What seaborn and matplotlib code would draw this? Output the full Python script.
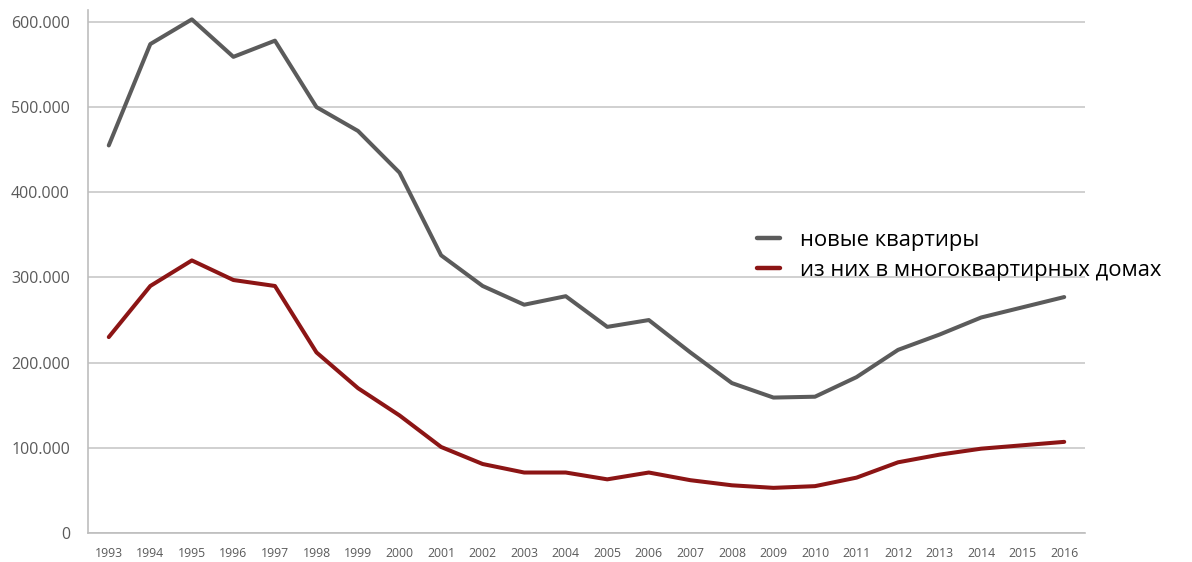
import matplotlib
matplotlib.use("Agg")
import matplotlib.pyplot as plt
from matplotlib.ticker import FuncFormatter, MultipleLocator, FixedLocator
import seaborn as sns
import pandas as pd

years = list(range(1993, 2017))
new_flats = [455000, 574000, 603000, 559000, 578000, 500000, 472000, 423000,
             326000, 290000, 268000, 278000, 242000, 250000, 212000, 176000,
             159000, 160000, 183000, 215000, 233000, 253000, 265000, 277000]
multi_family = [230000, 290000, 320000, 297000, 290000, 212000, 170000, 138000,
                101000, 81000, 71000, 71000, 63000, 71000, 62000, 56000,
                53000, 55000, 65000, 83000, 92000, 99000, 103000, 107000]
series_names = ["новые квартиры", "из них в многоквартирных домах"]
series_colors = ["#5b5b5b", "#8c1515"]

df = pd.concat([
    pd.DataFrame({"year": years, "value": new_flats, "series": series_names[0]}),
    pd.DataFrame({"year": years, "value": multi_family, "series": series_names[1]}),
])

sns.set_style("white")
plt.rcParams["font.family"] = ["Open Sans", "DejaVu Sans"]

fig = plt.figure(figsize=(11.92, 5.62), dpi=100)
ax = fig.add_axes([88 / 1192, 1 - 533 / 562, (1085 - 88) / 1192, (533 - 10) / 562])

sns.lineplot(data=df, x="year", y="value", hue="series",
             palette=dict(zip(series_names, series_colors)),
             linewidth=2.9, ax=ax, legend=False)

ax.set_xlim(1992.5, 2016.5)
ax.set_ylim(0, 614000)
ax.set_xlabel("")
ax.set_ylabel("")

ax.yaxis.set_major_locator(MultipleLocator(100000))
ax.yaxis.set_major_formatter(FuncFormatter(
    lambda v, p: "0" if v == 0 else f"{int(v):,}".replace(",", ".")))
ax.xaxis.set_major_locator(FixedLocator(years))
ax.xaxis.set_minor_locator(FixedLocator([y + 0.5 for y in years[:-1]]))

ax.grid(axis="y", color="#c8c8c8", linewidth=1.2)
ax.set_axisbelow(True)
for side in ["top", "right"]:
    ax.spines[side].set_visible(False)
for side in ["left", "bottom"]:
    ax.spines[side].set_color("#bdbdbd")
    ax.spines[side].set_linewidth(1.2)

ax.tick_params(axis="y", length=5, color="#c8c8c8", labelsize=11.5,
               labelcolor="#5a5a5a", pad=8)
ax.tick_params(axis="x", which="major", length=0, labelsize=8.8,
               labelcolor="#5a5a5a", pad=10)
ax.tick_params(axis="x", which="minor", length=4, color="#bdbdbd")

handles = [plt.Line2D([], [], color=c, linewidth=3.2) for c in series_colors]
fig.legend(handles, series_names, loc="upper left",
           bbox_to_anchor=(757 / 1192, 1 - 230 / 562), frameon=False,
           fontsize=15.8, handlelength=1.05, handletextpad=0.9,
           labelspacing=0.4, borderaxespad=0, borderpad=0,
           labelcolor="black")

fig.savefig("out.png", dpi=100, facecolor="white")
